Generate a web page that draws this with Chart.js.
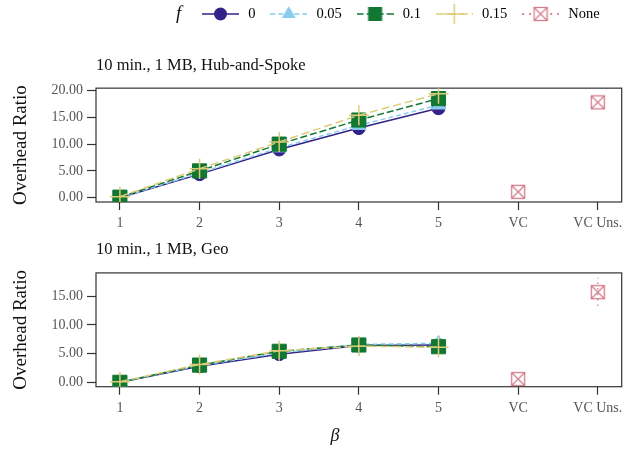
<!DOCTYPE html>
<html>
<head>
<meta charset="utf-8">
<script src="https://cdn.jsdelivr.net/npm/chart.js@4.4.1/dist/chart.umd.min.js"></script>
<style>
body { margin: 0; background: #fff; }
canvas { display: block; }
</style>
</head>
<body>
<canvas id="hub" width="636" height="232"></canvas>
<canvas id="geo" width="636" height="221"></canvas>
<script>
// data
var categories = ['1', '2', '3', '4', '5', 'VC', 'VC Uns.'];
var seriesNames = ['0', '0.05', '0.1', '0.15', 'None'];

var hub0    = [0.0, 4.4, 9.0, 13.0, 16.7, null, null];
var hub005  = [0.0, 4.6, 9.3, 13.5, 17.3, null, null];
var hub01   = [0.1, 5.0, 10.0, 14.5, 18.5, null, null];
var hub015  = [0.2, 5.4, 10.4, 15.4, 19.4, null, null];
var hubNone = [null, null, null, null, null, 1.1, 17.8];

var geo0    = [0.0, 2.8, 4.9, 6.4, 6.5, null, null];
var geo005  = [0.0, 2.9, 5.1, 6.6, 6.8, null, null];
var geo01   = [0.0, 3.0, 5.4, 6.5, 6.2, null, null];
var geo015  = [0.1, 3.1, 5.5, 6.3, 6.1, null, null];
var geoNone = [null, null, null, null, null, 0.55, 15.7];
var geoNoneLow  = [null, null, null, null, null, null, 13.3];
var geoNoneHigh = [null, null, null, null, null, null, 18.2];

var hubTicks = [0, 5, 10, 15, 20];
var geoTicks = [0, 5, 10, 15];

var FONT = 'Liberation Serif';
Chart.defaults.font.family = FONT;

// little square-with-X marker for the "None" series
var boxX = document.createElement('canvas');
boxX.width = 16; boxX.height = 16;
(function () {
    var g = boxX.getContext('2d');
    g.strokeStyle = 'rgba(204, 102, 119, 0.85)';
    g.lineWidth = 1.3;
    g.strokeRect(1.5, 1.5, 13, 13);
    g.beginPath();
    g.moveTo(1.5, 1.5); g.lineTo(14.5, 14.5);
    g.moveTo(14.5, 1.5); g.lineTo(1.5, 14.5);
    g.stroke();
})();

var styles = [
    {color: '#332288', dash: [], point: 'circle', radius: 6.5},
    {color: '#88CCEE', dash: [5, 3], point: 'triangle', radius: 8},
    {color: '#117733', dash: [7, 3], point: 'rect', radius: 10},
    {color: '#DDCC77', dash: [8, 4], point: 'cross', radius: 10},
    {color: '#CC6677', dash: [2, 5], point: boxX, radius: 8}
];

// legend swatch: line + marker
function swatch(k) {
    var s = styles[k];
    var c = document.createElement('canvas');
    c.width = 37; c.height = 22;
    var g = c.getContext('2d');
    var cx = 18.5, cy = 11;
    g.strokeStyle = s.color;
    g.fillStyle = s.color;
    g.lineWidth = 1.5;
    g.setLineDash(s.dash);
    g.beginPath(); g.moveTo(0, cy); g.lineTo(37, cy); g.stroke();
    g.setLineDash([]);
    if (k === 0) {
        g.beginPath(); g.arc(cx, cy, 6.5, 0, Math.PI * 2); g.fill();
    } else if (k === 1) {
        g.beginPath();
        g.moveTo(cx, cy - 8);
        g.lineTo(cx + 6.93, cy + 4);
        g.lineTo(cx - 6.93, cy + 4);
        g.closePath(); g.fill();
    } else if (k === 2) {
        g.fillRect(cx - 7, cy - 7, 14, 14);
    } else if (k === 3) {
        g.beginPath();
        g.moveTo(cx, cy - 10); g.lineTo(cx, cy + 10);
        g.moveTo(cx - 10, cy); g.lineTo(cx + 10, cy);
        g.stroke();
    } else {
        g.clearRect(cx - 8, cy - 8, 16, 16);
        g.drawImage(boxX, cx - 8, cy - 8);
    }
    return c;
}
var swatches = seriesNames.map(function (n, k) { return swatch(k); });

function points(arr) {
    var out = [];
    arr.forEach(function (v, i) { if (v !== null) out.push({x: i + 1, y: v}); });
    return out;
}

function makeDatasets(series, none, low, high) {
    var ds = series.map(function (arr, k) {
        var s = styles[k];
        return {
            label: seriesNames[k],
            data: points(arr),
            borderColor: s.color,
            backgroundColor: s.color,
            borderDash: s.dash,
            borderWidth: 1.5,
            pointStyle: s.point,
            pointRadius: s.radius,
            pointBorderWidth: k === 3 ? 1.5 : 1,
            order: 4 - k
        };
    });
    ds.push({
        label: 'None',
        data: points(none),
        showLine: false,
        borderColor: styles[4].color,
        backgroundColor: styles[4].color,
        pointStyle: boxX,
        pointRadius: 8,
        order: 0
    });
    if (low) {
        ds.push({
            label: 'None err',
            data: points(low).concat(points(high)),
            showLine: true,
            borderColor: 'rgba(204, 102, 119, 0.85)',
            borderDash: [1.5, 4],
            borderWidth: 1.3,
            pointRadius: 0,
            order: 0
        });
    }
    return ds;
}

var frame = {
    id: 'frame',
    beforeDatasetsDraw: function (chart) {
        var a = chart.chartArea, g = chart.ctx;
        g.save();
        g.strokeStyle = '#333';
        g.lineWidth = 1.2;
        g.strokeRect(a.left, a.top, a.right - a.left, a.bottom - a.top);
        g.restore();
    }
};

// nudge legend up/left a bit and write the italic f in front of it
var legendF = {
    id: 'legendF',
    afterLayout: function (chart) {
        var l = chart.legend;
        if (!l) return;
        l.left -= 9.2; l.right -= 9.2;
        l.top -= 6; l.bottom -= 6;
    },
    afterDraw: function (chart) {
        var hb = chart.legend && chart.legend.legendHitBoxes[0];
        if (!hb) return;
        var g = chart.ctx;
        g.save();
        g.font = 'italic 19px ' + FONT;
        g.fillStyle = '#111';
        g.textAlign = 'center';
        g.textBaseline = 'middle';
        g.fillText('f', hb.left - 21.3, hb.top + hb.height / 2);
        g.restore();
    }
};

// x label sits a little left of the axis centre in the original
var betaLabel = {
    id: 'betaLabel',
    afterDraw: function (chart) {
        var g = chart.ctx;
        g.save();
        g.font = 'italic 18px ' + FONT;
        g.fillStyle = '#111';
        g.textAlign = 'center';
        g.textBaseline = 'middle';
        g.fillText('β', 335, chart.height - 16.3);
        g.restore();
    }
};

function buildChart(id, cfg) {
    var xScale = {
        type: 'linear',
        min: 0.7,
        max: 7.3,
        afterBuildTicks: function (s) {
            s.ticks = categories.map(function (c, i) { return {value: i + 1}; });
        },
        afterFit: function (s) { s.height = cfg.xHeight; },
        ticks: {
            autoSkip: false,
            maxRotation: 0,
            padding: 5,
            color: '#555',
            font: {size: 14},
            callback: function (v) { return categories[Math.round(v) - 1]; }
        },
        grid: {drawOnChartArea: false, tickLength: 8, tickColor: '#333', tickWidth: 1.2},
        border: {display: false}
    };
    var yScale = {
        min: cfg.yMin,
        max: cfg.yMax,
        afterBuildTicks: function (s) {
            s.ticks = cfg.yTicks.map(function (v) { return {value: v}; });
        },
        afterFit: function (s) { s.width = 96; },
        ticks: {
            padding: 4,
            color: '#555',
            font: {size: 14},
            callback: function (v) { return v.toFixed(2); }
        },
        grid: {drawOnChartArea: false, tickLength: 9, tickColor: '#333', tickWidth: 1.2},
        border: {display: false},
        title: {
            display: true,
            text: 'Overhead Ratio',
            color: '#111',
            font: {size: 19},
            padding: {top: 10, bottom: 0}
        }
    };
    var plugins = [frame];
    if (cfg.legend) plugins.push(legendF);
    if (cfg.beta) plugins.push(betaLabel);
    return new Chart(document.getElementById(id), {
        type: 'line',
        data: {datasets: cfg.datasets},
        options: {
            responsive: false,
            animation: false,
            devicePixelRatio: 1,
            layout: {padding: {left: 0, right: 14.3, top: 0, bottom: 0}},
            scales: {x: xScale, y: yScale},
            plugins: {
                tooltip: {enabled: false},
                title: {
                    display: true,
                    text: cfg.title,
                    align: 'start',
                    fullSize: false,
                    color: '#111',
                    font: {size: 16.5, weight: 'normal'},
                    padding: cfg.titlePadding
                },
                legend: cfg.legend ? {
                    display: true,
                    position: 'top',
                    align: 'end',
                    weight: 3000,
                    labels: {
                        usePointStyle: true,
                        pointStyleWidth: 41,
                        padding: 12.75,
                        color: '#111',
                        font: {size: 14.5},
                        generateLabels: function () {
                            return seriesNames.map(function (n, k) {
                                return {text: n, pointStyle: swatches[k], datasetIndex: k, hidden: false, lineWidth: 0};
                            });
                        }
                    }
                } : {display: false}
            }
        },
        plugins: plugins
    });
}

buildChart('hub', {
    title: '10 min., 1 MB, Hub-and-Spoke',
    titlePadding: {top: 18.2, bottom: 12.9},
    legend: true,
    xHeight: 30,
    yMin: -0.8,
    yMax: 20.45,
    yTicks: hubTicks,
    datasets: makeDatasets([hub0, hub005, hub01, hub015], hubNone)
});

buildChart('geo', {
    title: '10 min., 1 MB, Geo',
    titlePadding: {top: 8.2, bottom: 12.9},
    legend: false,
    beta: true,
    xHeight: 66.3,
    yMin: -0.77,
    yMax: 19.06,
    yTicks: geoTicks,
    datasets: makeDatasets([geo0, geo005, geo01, geo015], geoNone, geoNoneLow, geoNoneHigh)
});
</script>
</body>
</html>
